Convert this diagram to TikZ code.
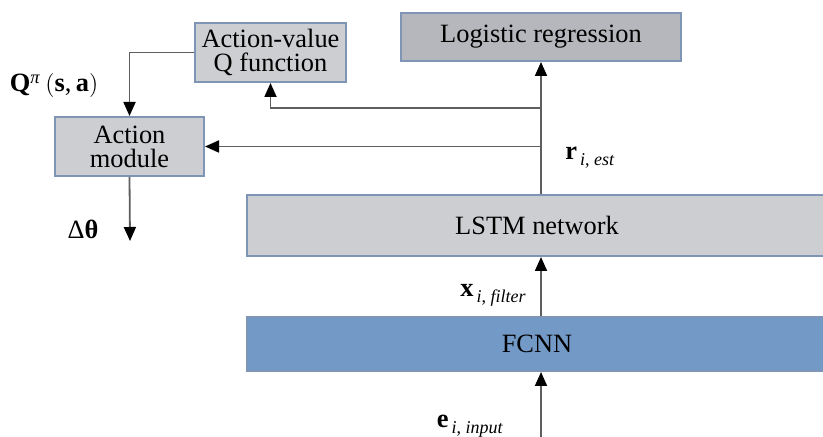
\documentclass[tikz,border=0pt]{standalone}
\usepackage{fontspec}
\setmainfont{Liberation Serif}
\usetikzlibrary{arrows.meta}
\definecolor{boxline}{HTML}{7F95B5}
\definecolor{lightbox}{HTML}{CDCED1}
\definecolor{darkbox}{HTML}{B5B7BC}
\definecolor{fcnnblue}{HTML}{7399C7}
\definecolor{wiregray}{HTML}{5E5E5E}
\newcommand{\veclab}[2]{\textbf{#1}\raisebox{-0.5ex}{\fontsize{9}{9}\selectfont\,\textit{i}, \textit{#2}}}

\begin{document}
\begin{tikzpicture}[x=0.5pt, y=-0.5pt,
    block/.style={draw=boxline, line width=1pt, inner sep=0pt, align=center,
        font=\fontsize{13.2}{12}\selectfont},
    wire/.style={draw=wiregray, line width=0.9pt,
        -{Triangle[length=7pt, width=6pt, color=black]}},
    lab/.style={inner sep=0pt, font=\fontsize{13.2}{14}\selectfont}]
    \useasboundingbox (0,0) rectangle (823,437);

    \node[block, fill=lightbox, minimum width=75.5pt, minimum height=29.5pt] (qfun) at (270.5,52.5) {Action-value\\Q function};
    \node[block, fill=lightbox, minimum width=74.5pt, minimum height=29.5pt] (act) at (129.5,146.5) {Action\\module};
    \node[block, fill=darkbox, minimum width=140pt, minimum height=24pt] (logreg) at (541,37) {Logistic regression};
    \node[block, fill=lightbox, minimum width=290pt, minimum height=30.5pt] (lstm) at (537,225.5) {LSTM network};
    \node[block, fill=fcnnblue, minimum width=290pt, minimum height=27pt] (fcnn) at (537,344) {FCNN};

    \coordinate (ein) at (541,445);
    \coordinate (tapq) at (541,108);
    \coordinate (tapa) at (541,146.5);
    \coordinate (dth) at (130,241);

    \draw[wire] (ein) -- (ein |- fcnn.south);
    \draw[wire] (ein |- fcnn.north) -- (ein |- lstm.south);
    \draw[wire] (ein |- lstm.north) -- (logreg.south);
    \draw[wire] (tapq) -| (qfun.south);
    \draw[wire] (tapa) -- (act.east);
    \draw[wire] (qfun.west) -| (act.north);
    \draw[wire] (act.south) -- (dth);

    \node[lab] (qlab) at (54,86) {\textbf{Q}\textsuperscript{\textit{π}}\,$\bigl($\textbf{s},\,\textbf{a}$\bigr)$};
    \node[lab] (dlab) at (83,229) {Δ\textbf{θ}};
    \node[lab] (rlab) at (590,158) {\veclab{r}{est}};
    \node[lab] (xlab) at (493,295) {\veclab{x}{filter}};
    \node[lab] (elab) at (470,426) {\veclab{e}{input}};
\end{tikzpicture}
\end{document}
